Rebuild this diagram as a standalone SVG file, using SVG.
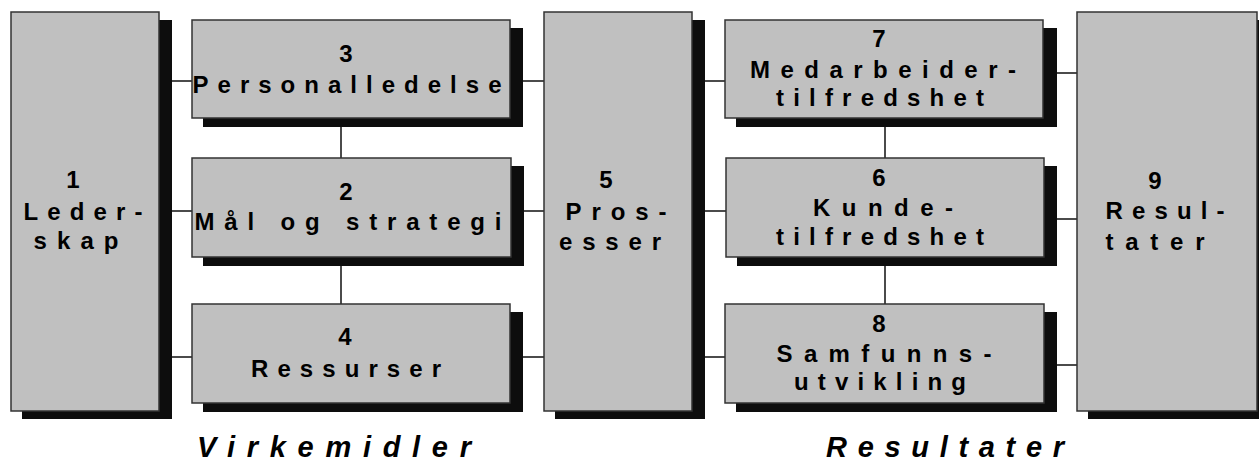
<svg xmlns="http://www.w3.org/2000/svg" width="1259" height="465" viewBox="0 0 1259 465">
<style>
.box{fill:#c0c0c0;stroke:#333;stroke-width:1.5}
.sh{fill:#0d0d0d}
.t{font-family:"Liberation Sans",Arial,sans-serif;font-weight:bold;font-size:24px;fill:#000;text-anchor:middle}
.lbl{font-family:"Liberation Sans",Arial,sans-serif;font-weight:bold;font-style:italic;font-size:29px;fill:#000;text-anchor:middle}
.c{stroke:#111;stroke-width:1.5;fill:none}
</style>
<rect width="1259" height="465" fill="#fff"/>
<g id="connectors">
<path class="c" d="M172 81H192M172 211H192M172 357H192"/>
<path class="c" d="M523 81H544M523 211H544M523 357H544"/>
<path class="c" d="M705 81H725M705 211H726M705 357H725"/>
<path class="c" d="M1057 73H1077M1057 219H1077M1057 365H1077"/>
<path class="c" d="M341 127V158M341 266V304"/>
<path class="c" d="M885 127V158M885 266V304"/>
</g>
<g id="n1">
<rect class="sh" x="22" y="20" width="150" height="399"/>
<rect class="box" x="11" y="12" width="148" height="399"/>
<text class="t" x="73" y="188">1</text>
<text class="t" x="83" y="220" textLength="119" lengthAdjust="spacing">Leder-</text>
<text class="t" x="76" y="249" textLength="85" lengthAdjust="spacing">skap</text>
</g>
<g id="n3">
<rect class="sh" x="203" y="28" width="320" height="99"/>
<rect class="box" x="192" y="20" width="318" height="98"/>
<text class="t" x="346" y="62">3</text>
<text class="t" x="347" y="93" textLength="309" lengthAdjust="spacing">Personalledelse</text>
</g>
<g id="n2">
<rect class="sh" x="203" y="166" width="321" height="100"/>
<rect class="box" x="192" y="158" width="319" height="99"/>
<text class="t" x="346" y="200">2</text>
<text class="t" x="348" y="230" textLength="307" lengthAdjust="spacing">Mål og strategi</text>
</g>
<g id="n4">
<rect class="sh" x="203" y="312" width="320" height="100"/>
<rect class="box" x="192" y="304" width="318" height="99"/>
<text class="t" x="345" y="345">4</text>
<text class="t" x="346" y="377" textLength="190" lengthAdjust="spacing">Ressurser</text>
</g>
<g id="n5">
<rect class="sh" x="555" y="20" width="150" height="399"/>
<rect class="box" x="544" y="12" width="148" height="399"/>
<text class="t" x="606" y="188">5</text>
<text class="t" x="616" y="220" textLength="101" lengthAdjust="spacing">Pros-</text>
<text class="t" x="610" y="250" textLength="102" lengthAdjust="spacing">esser</text>
</g>
<g id="n7">
<rect class="sh" x="736" y="28" width="321" height="99"/>
<rect class="box" x="725" y="20" width="318" height="98"/>
<text class="t" x="879" y="47">7</text>
<text class="t" x="883" y="78" textLength="266" lengthAdjust="spacing">Medarbeider-</text>
<text class="t" x="880" y="106" textLength="208" lengthAdjust="spacing">tilfredshet</text>
</g>
<g id="n6">
<rect class="sh" x="737" y="166" width="320" height="100"/>
<rect class="box" x="726" y="158" width="318" height="99"/>
<text class="t" x="879" y="186">6</text>
<text class="t" x="883" y="216" textLength="140" lengthAdjust="spacing">Kunde-</text>
<text class="t" x="880" y="245" textLength="208" lengthAdjust="spacing">tilfredshet</text>
</g>
<g id="n8">
<rect class="sh" x="736" y="312" width="321" height="100"/>
<rect class="box" x="725" y="304" width="319" height="99"/>
<text class="t" x="879" y="332">8</text>
<text class="t" x="884" y="362" textLength="215" lengthAdjust="spacing">Samfunns-</text>
<text class="t" x="880" y="390" textLength="172" lengthAdjust="spacing">utvikling</text>
</g>
<g id="n9">
<rect class="sh" x="1088" y="20" width="182" height="399"/>
<rect class="box" x="1077" y="12" width="180" height="399"/>
<text class="t" x="1155" y="189">9</text>
<text class="t" x="1165" y="219" textLength="119" lengthAdjust="spacing">Resul-</text>
<text class="t" x="1155" y="250" textLength="99" lengthAdjust="spacing">tater</text>
</g>
<g id="labels">
<text class="lbl" x="334" y="457" textLength="274" lengthAdjust="spacing">Virkemidler</text>
<text class="lbl" x="945" y="457" textLength="238" lengthAdjust="spacing">Resultater</text>
</g>
</svg>
